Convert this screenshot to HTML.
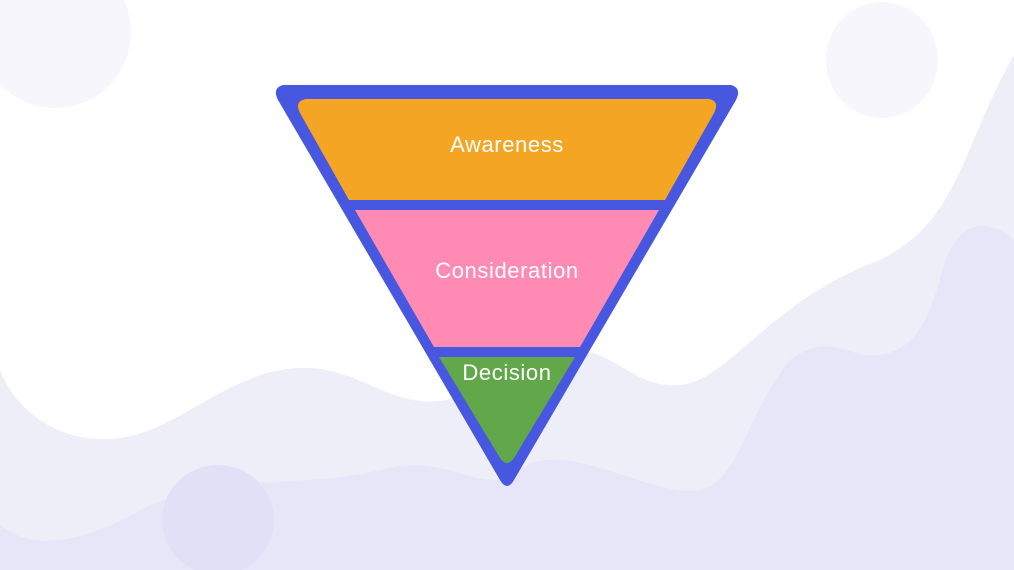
<!DOCTYPE html>
<html><head><meta charset="utf-8"><style>
html,body{margin:0;padding:0;background:#fff;width:1014px;height:570px;overflow:hidden}
svg{display:block}
text{font-family:"Liberation Sans",sans-serif;fill:#fff;font-size:22px;letter-spacing:0.6px;text-anchor:middle}
</style></head><body>
<svg width="1014" height="570" viewBox="0 0 1014 570">
<rect width="1014" height="570" fill="#fff"/>
<circle cx="55" cy="32" r="76" fill="#f6f6fc"/>
<ellipse cx="882" cy="60" rx="56" ry="58" fill="#f6f6fc"/>
<path d="M0 370 C20 420 70 445 120 438 C180 430 230 370 300 368 C360 366 390 410 447 400 L590 352 C620 360 640 388 680 385 C730 380 770 300 880 260 C960 220 960 150 1014 55 L1014 570 L0 570 Z" fill="#eeeef9"/>
<path d="M1014 240 C980 210 950 230 940 280 C925 330 910 350 880 355 C850 360 830 330 790 360 C740 420 740 500 680 490 C630 485 560 440 520 470 C480 500 450 450 380 470 C300 490 220 470 140 510 C80 545 30 550 0 525 L0 570 L1014 570 Z" fill="#e6e6f8"/>
<ellipse cx="218" cy="520" rx="56" ry="55" fill="#e0e0f6"/>
<path d="M283 85 L731 85 Q742 88 736 100 L514 480 Q507 492 500 480 L278 100 Q272 88 283 85 Z" fill="#4757e0"/>
<path d="M306 99 L709 99 Q720 101 714 113 L665 200 L349 200 L300 113 Q294 101 306 99 Z" fill="#f5a524"/>
<path d="M355 210 L659 210 L580 347 L434 347 Z" fill="#ff8ab4"/>
<path d="M439 357 L575 357 L514 458 Q507 468 500 458 Z" fill="#62a84a"/>
<text x="507" y="152">Awareness</text>
<text x="507" y="278">Consideration</text>
<text x="507" y="380">Decision</text>
</svg>
</body></html>
